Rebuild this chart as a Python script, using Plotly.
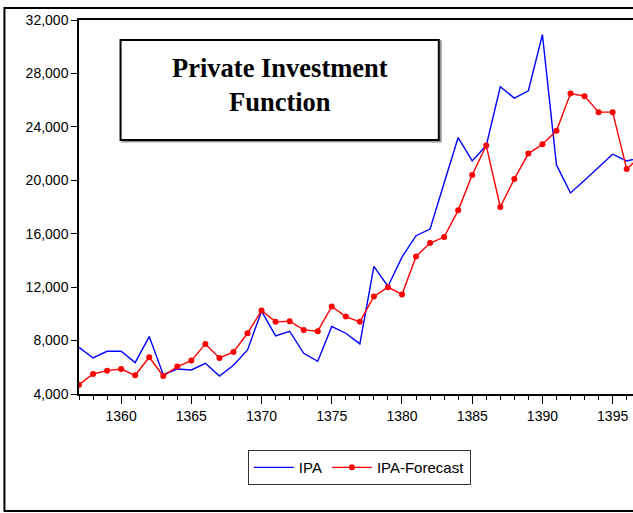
import plotly.graph_objects as go

years = list(range(1357, 1398))
ipa = [7500, 6700, 7200, 7200, 6350, 8300, 5450, 5870, 5800, 6300,
       5350, 6150, 7300, 10200, 8350, 8700, 7050, 6450, 9050, 8550,
       7750, 13550, 12050, 14250, 15850, 16350, 19800, 23200, 21450, 22600,
       27000, 26150, 26700, 30900, 21150, 19050, 20000, 21000, 21950, 21450,
       21700]
ipa_forecast = [4700, 5500, 5750, 5870, 5400, 6750, 5350, 6050, 6500, 7750,
                6700, 7150, 8550, 10250, 9400, 9450, 8800, 8700, 10550, 9800,
                9400, 11300, 12000, 11450, 14300, 15300, 15750, 17750, 20400, 22600,
                18000, 20100, 22000, 22700, 23700, 26500, 26300, 25100, 25100, 20850,
                21800]
y_ticks = [4000, 8000, 12000, 16000, 20000, 24000, 28000, 32000]

fig = go.Figure(data=[
    go.Scatter(x=years, y=ipa, name="IPA", mode="lines",
               line=dict(color="rgb(0,0,255)", width=1.4)),
    go.Scatter(x=years, y=ipa_forecast, name="IPA-Forecast", mode="lines+markers",
               line=dict(color="rgb(255,0,0)", width=1.4),
               marker=dict(color="rgb(255,0,0)", size=6)),
])

fig.update_layout(
    width=633, height=513,
    margin=dict(l=79, r=0, t=20, b=119),
    paper_bgcolor="white", plot_bgcolor="white",
    font=dict(family="Liberation Sans, Arial", size=14, color="black"),
    showlegend=True,
    legend=dict(orientation="h", xanchor="center", x=0.506, yanchor="top", y=-0.15,
                bordercolor="#333", borderwidth=1, font=dict(size=15),
                itemwidth=40),
    shapes=[
        # outer frame
        dict(type="rect", xref="paper", yref="paper", x0=-0.1346, x1=1.2, y0=-0.3128, y1=1.032,
             line=dict(color="black", width=2), layer="below"),
        # title box shadow + box
        dict(type="rect", xref="paper", yref="paper", x0=0.078, x1=0.653, y0=0.675, y1=0.943,
             line=dict(color="#999", width=2), fillcolor="white"),
        dict(type="rect", xref="paper", yref="paper", x0=0.075, x1=0.6495, y0=0.679, y1=0.9465,
             line=dict(color="black", width=2), fillcolor="white"),
    ],
    annotations=[dict(text="<b>Private Investment</b><br><b>Function</b>", xref="paper", yref="paper",
                      x=0.363, y=0.826, xanchor="center", yanchor="middle", showarrow=False,
                      font=dict(family="Liberation Serif, Times New Roman", size=26.5, color="black"))],
)

fig.update_xaxes(range=[1357, 1396.45], showgrid=False, zeroline=False,
                 showline=True, linecolor="black", linewidth=1.5, mirror=True,
                 ticks="outside", tick0=1360, dtick=5, ticklen=8, tickcolor="black",
                 minor=dict(ticks="outside", dtick=1, ticklen=4, tickcolor="black"))
fig.update_yaxes(range=[4000, 32000], showgrid=False, zeroline=False,
                 showline=True, linecolor="black", linewidth=1.5,
                 ticks="outside", tickvals=y_ticks, tickformat=",d", ticklen=6, tickcolor="black")

fig.write_html("out.html", config={"displayModeBar": False},
               post_script="document.body.style.margin='0';document.body.style.overflow='hidden';")
